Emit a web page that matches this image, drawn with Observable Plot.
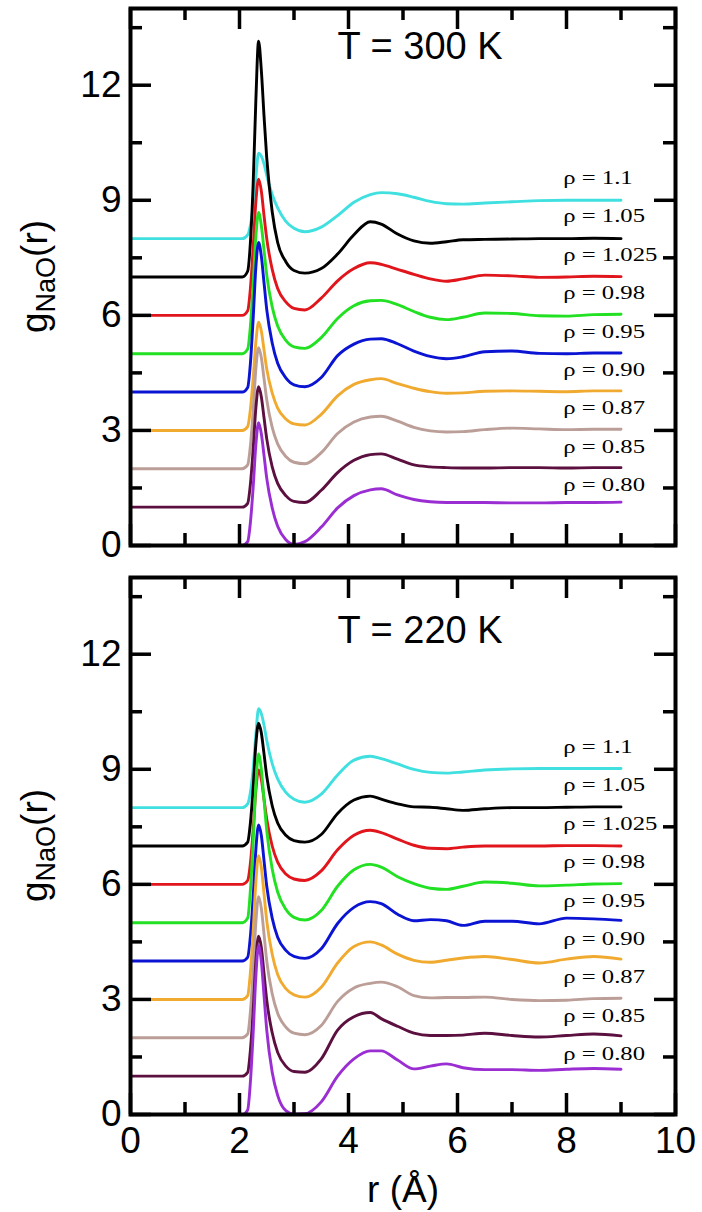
<!DOCTYPE html>
<html><head><meta charset="utf-8">
<script src="https://cdn.jsdelivr.net/npm/d3@7"></script>
<script src="https://cdn.jsdelivr.net/npm/@observablehq/plot@0.6"></script>
<style>
body{margin:0;background:#fff}
#chart{width:702px;height:1212px;position:relative;background:#fff}
#chart svg{display:block}
</style>
</head><body><div id="chart"></div>
<script>
// r grid (Å)
const r = [0, 2.05, 2.15, 2.2, 2.25, 2.3, 2.35, 2.4, 2.45, 2.5, 2.6, 2.7, 2.85, 3.0, 3.2, 3.5, 3.8, 4.1, 4.4, 4.6, 4.9, 5.2, 5.5, 5.8, 6.1, 6.5, 7.0, 7.5, 8.0, 8.5, 9.0];
const densities = ["0.80", "0.85", "0.87", "0.90", "0.95", "0.98", "1.025", "1.05", "1.1"];
const offsets = [0, 1, 2, 3, 4, 5, 6, 7, 8];
const colors = ["#9a2ed2", "#5c1040", "#bc9e98", "#f0aa30", "#0a14d2", "#22e022", "#e0161c", "#000000", "#40e0e0"];

// T = 300 K
const g300_080 = [0,0,0.1,0.6,1.5,2.62,3.2,2.92,2.35,1.75,0.98,0.5,0.15,0.03,0.1,0.48,0.98,1.3,1.45,1.48,1.32,1.2,1.14,1.12,1.12,1.12,1.11,1.11,1.12,1.12,1.13];
const g300_085 = [0,0,0.1,0.6,1.5,2.58,3.14,2.88,2.33,1.78,1.05,0.62,0.3,0.15,0.12,0.44,0.9,1.22,1.37,1.39,1.25,1.1,1.05,1.03,1.02,1.02,1.03,1.03,1.02,1.03,1.03];
const g300_087 = [0,0,0.1,0.6,1.5,2.6,3.16,2.9,2.35,1.8,1.08,0.65,0.32,0.17,0.13,0.42,0.92,1.22,1.35,1.37,1.24,1.08,0.99,0.96,0.97,1.02,1.06,1.04,1.02,1.03,1.03];
const g300_090 = [0,0,0.1,0.55,1.35,2.3,2.82,2.6,2.1,1.6,0.98,0.58,0.3,0.17,0.14,0.42,0.9,1.2,1.32,1.35,1.22,1.1,1.01,0.97,0.98,1.02,1.03,1.02,1.01,1.03,1.03];
const g300_095 = [0,0,0.12,0.75,1.9,3.25,3.9,3.55,2.85,2.15,1.28,0.75,0.37,0.19,0.14,0.38,0.95,1.25,1.38,1.39,1.26,1.07,0.93,0.87,0.92,1.05,1.07,1.01,1.0,1.02,1.02];
const g300_098 = [0,0,0.12,0.72,1.8,3.05,3.68,3.35,2.7,2.05,1.22,0.72,0.35,0.18,0.14,0.42,0.92,1.25,1.38,1.39,1.28,1.1,0.95,0.89,0.95,1.06,1.05,0.99,0.98,1.02,1.03];
const g300_1025 = [0,0,0.12,0.7,1.75,2.95,3.55,3.25,2.6,2.0,1.2,0.7,0.35,0.18,0.14,0.45,0.9,1.22,1.37,1.33,1.2,1.07,0.95,0.89,0.95,1.05,1.03,0.99,1.0,1.02,1.01];
const g300_105 = [0,0,0.15,0.9,2.4,4.6,6.15,5.4,4.2,3.1,1.7,0.9,0.4,0.17,0.1,0.22,0.6,1.1,1.44,1.38,1.12,0.94,0.88,0.92,0.97,0.98,0.99,1.0,1.0,1.01,1.0];
const g300_110 = [0,0,0.1,0.35,0.85,1.6,2.23,2.15,1.95,1.65,1.15,0.8,0.45,0.27,0.18,0.3,0.6,0.95,1.15,1.2,1.17,1.08,0.97,0.91,0.9,0.93,0.96,0.99,1.0,1.0,1.0];

// T = 220 K
const g220_080 = [0,0,0.12,0.85,2.1,3.6,4.4,4.0,3.1,2.2,1.1,0.5,0.1,0.01,0.02,0.33,1.0,1.45,1.66,1.66,1.42,1.19,1.26,1.32,1.22,1.17,1.17,1.15,1.18,1.2,1.18];
const g220_085 = [0,0,0.1,0.68,1.7,3.0,3.65,3.36,2.68,1.98,1.13,0.62,0.26,0.12,0.1,0.45,1.2,1.55,1.66,1.5,1.3,1.12,1.06,1.06,1.07,1.12,1.06,1.02,1.06,1.1,1.05];
const g220_087 = [0,0,0.1,0.68,1.72,3.0,3.68,3.38,2.7,2.0,1.15,0.64,0.28,0.12,0.08,0.32,0.95,1.3,1.42,1.45,1.33,1.1,1.04,1.05,1.05,1.06,1.0,0.97,0.98,1.02,1.03];
const g220_090 = [0,0,0.1,0.7,1.75,3.05,3.75,3.45,2.75,2.05,1.18,0.65,0.28,0.12,0.06,0.32,0.95,1.38,1.5,1.42,1.18,1.02,0.97,1.02,1.08,1.12,1.04,0.95,1.05,1.12,1.05];
const g220_095 = [0,0,0.1,0.65,1.65,2.9,3.55,3.28,2.62,1.95,1.12,0.62,0.28,0.12,0.07,0.32,0.98,1.4,1.55,1.5,1.22,1.05,1.08,1.05,0.93,1.04,1.04,0.97,1.12,1.1,1.06];
const g220_098 = [0,0,0.12,0.85,2.1,3.6,4.4,4.0,3.2,2.4,1.4,0.8,0.35,0.14,0.07,0.32,0.95,1.38,1.52,1.45,1.2,1.02,0.9,0.87,0.95,1.06,1.03,0.96,0.98,1.01,1.02];
const g220_1025 = [0,0,0.1,0.55,1.4,2.45,2.98,2.75,2.22,1.7,1.0,0.58,0.27,0.14,0.1,0.35,0.9,1.28,1.41,1.35,1.18,1.02,0.94,0.93,0.97,1.0,1.0,1.0,1.01,1.01,1.0];
const g220_105 = [0,0,0.1,0.6,1.5,2.65,3.2,2.95,2.4,1.82,1.05,0.6,0.28,0.14,0.1,0.3,0.85,1.2,1.3,1.22,1.1,1.02,1.01,0.97,0.93,0.97,1.0,1.0,1.01,1.02,1.02];
const g220_110 = [0,0,0.1,0.4,1.0,1.9,2.58,2.45,2.15,1.75,1.15,0.75,0.4,0.22,0.14,0.35,0.85,1.24,1.34,1.28,1.14,1.0,0.92,0.9,0.93,0.98,1.01,1.02,1.02,1.02,1.02];

const series300 = [g300_080, g300_085, g300_087, g300_090, g300_095, g300_098, g300_1025, g300_105, g300_110];
const series220 = [g220_080, g220_085, g220_087, g220_090, g220_095, g220_098, g220_1025, g220_105, g220_110];

const yMajor = [0, 3, 6, 9, 12];
const yMinor = [1.5, 4.5, 7.5, 10.5, 13.5];
const xMajor = [0, 2, 4, 6, 8, 10];
const xMinor = [1, 3, 5, 7, 9];

const W = 702, ML = 130, MR = 27;
const FW = W - ML - MR;
const FONT = "Liberation Sans, Arial, Helvetica, sans-serif";

function panel(gs, title, bottom) {
  const rows = [];
  for (let i = densities.length - 1; i >= 0; i--) {
    gs[i].forEach((g, j) => rows.push({r: r[j], v: g + offsets[i], s: densities[i]}));
  }
  const mt = bottom ? 15 : 8;
  const mb = bottom ? 98 : 17;
  const H = bottom ? 650 : 562;
  const FH = H - mt - mb;
  const marks = [
    Plot.line(rows, {x: "r", y: "v", z: "s", stroke: "s", strokeWidth: 2.9, curve: "monotone-x"}),
    Plot.tickY(yMajor, {y: d => d, insetRight: FW - 21, strokeWidth: 3.5}),
    Plot.tickY(yMajor, {y: d => d, insetLeft: FW - 21, strokeWidth: 3.5}),
    Plot.tickY(yMinor, {y: d => d, insetRight: FW - 12, strokeWidth: 3.5}),
    Plot.tickY(yMinor, {y: d => d, insetLeft: FW - 12, strokeWidth: 3.5}),
    Plot.tickX(xMajor, {x: d => d, insetTop: FH - 21, strokeWidth: 3.5}),
    Plot.tickX(xMajor, {x: d => d, insetBottom: FH - 21, strokeWidth: 3.5}),
    Plot.tickX(xMinor, {x: d => d, insetTop: FH - 12, strokeWidth: 3.5}),
    Plot.tickX(xMinor, {x: d => d, insetBottom: FH - 12, strokeWidth: 3.5}),
    Plot.frame({stroke: "black", strokeWidth: 4}),
    Plot.text(yMajor, {y: d => d, frameAnchor: "left", dx: -9, textAnchor: "end", text: d => String(d), fontSize: 37, fill: "black"}),
    Plot.text([title], {frameAnchor: "top", lineAnchor: "middle", dx: 17, dy: bottom ? 53 : 38, fontSize: 38, fill: "black"}),
    Plot.text(densities, {x: () => 7.94, y: (d, i) => offsets[i] + 1.58, text: d => "ρ = " + d, textAnchor: "start", fontFamily: "Liberation Serif, Times New Roman, serif", fontSize: 19, fill: "black", className: "rho"})
  ];
  if (bottom) {
    marks.push(Plot.text(xMajor, {x: d => d, frameAnchor: "bottom", lineAnchor: "middle", dy: 27, text: d => String(d), fontSize: 37, fill: "black"}));
    marks.push(Plot.text(["r (Å)"], {frameAnchor: "bottom", lineAnchor: "middle", dy: 76, fontSize: 37, fill: "black"}));
  }
  const svg = Plot.plot({
    width: W, height: H,
    marginLeft: ML, marginRight: MR, marginTop: mt, marginBottom: mb,
    x: {domain: [0, 10], axis: null},
    y: {domain: [0, 14], axis: null},
    color: {domain: densities, range: colors},
    style: {fontFamily: FONT, background: "white", overflow: "visible"},
    marks
  });
  // horizontally widen the density labels as in the original figure
  svg.querySelectorAll(".rho text").forEach(t => {
    const tr = t.getAttribute("transform");
    if (tr) t.setAttribute("transform", tr + " scale(1.3,1)");
  });
  // y-axis label with subscript
  const cy = mt + FH / 2;
  const lab = d3.select(svg).append("text")
    .attr("transform", `translate(47,${cy}) rotate(-90)`)
    .attr("text-anchor", "middle")
    .attr("font-family", FONT)
    .attr("font-size", 37)
    .attr("fill", "black");
  lab.append("tspan").text("g");
  lab.append("tspan").attr("font-size", 27).attr("dy", 8).text("NaO");
  lab.append("tspan").attr("dy", -8).text("(r)");
  return svg;
}

const chart = document.getElementById("chart");
chart.appendChild(panel(series300, "T = 300 K", false));
chart.appendChild(panel(series220, "T = 220 K", true));
</script>
</body></html>
